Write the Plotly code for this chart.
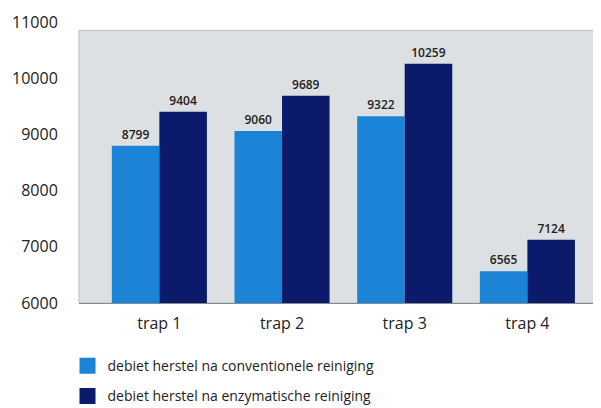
import plotly.graph_objects as go

categories = ["trap 1", "trap 2", "trap 3", "trap 4"]
conventioneel = [8799, 9060, 9322, 6565]
enzymatisch = [9404, 9689, 10259, 7124]
series_names = ["debiet herstel na conventionele reiniging",
                "debiet herstel na enzymatische reiniging"]
y_ticks = [6000, 7000, 8000, 9000, 10000, 11000]

light = "#1b84d6"
dark = "#0c1a6b"

fig = go.Figure()
for vals, col in [(conventioneel, light), (enzymatisch, dark)]:
    fig.add_trace(go.Bar(
        x=categories, y=vals, marker=dict(color=col, line=dict(width=0)),
        text=[str(v) for v in vals], textposition="outside", cliponaxis=False,
        textfont=dict(size=12, color="#222", family="Open Sans", weight=600),
        showlegend=False,
    ))
for i, (name, col) in enumerate(zip(series_names, [light, dark])):
    fig.add_trace(go.Scatter(
        x=[None], y=[None], mode="markers", name=name,
        legend="legend" if i == 0 else "legend2",
        marker=dict(symbol="square", size=17, color=col),
    ))

fig.add_shape(type="rect", xref="paper", yref="y", x0=0, x1=1.01, y0=6000, y1=10850,
              fillcolor="#dde0e2", line=dict(color="#b8bcbf", width=1), layer="below")

leg = dict(xanchor="left", yanchor="middle", font=dict(size=14, color="#222"),
           itemwidth=30, bgcolor="rgba(0,0,0,0)")
# page body has an 8px margin, so the figure is 8px smaller and offsets are shifted
fig.update_layout(
    width=593, height=400,
    margin=dict(l=71, r=0, t=14, b=105, autoexpand=False),
    paper_bgcolor="white", plot_bgcolor="white",
    barmode="group", bargap=0.225, bargroupgap=0,
    font=dict(family="Open Sans", color="#222"),
    showlegend=True,
    legend=dict(x=-0.022, y=-0.225, **leg),
    legend2=dict(x=-0.022, y=-0.332, **leg),
    xaxis=dict(range=[-0.655, 3.6], showgrid=False, showline=True,
               linecolor="#8a8a8a", linewidth=1,
               ticks="outside", ticklen=6, tickcolor="rgba(0,0,0,0)", automargin=False,
               tickfont=dict(size=16, color="#222")),
    yaxis=dict(range=[6000, 11000], tickvals=y_ticks, ticktext=[str(v) for v in y_ticks],
               showgrid=False, zeroline=False, showline=False, ticks="outside", ticklen=17,
               automargin=False,
               tickcolor="rgba(0,0,0,0)", tickfont=dict(size=16, color="#222")),
)

fig.write_html("out.html")
